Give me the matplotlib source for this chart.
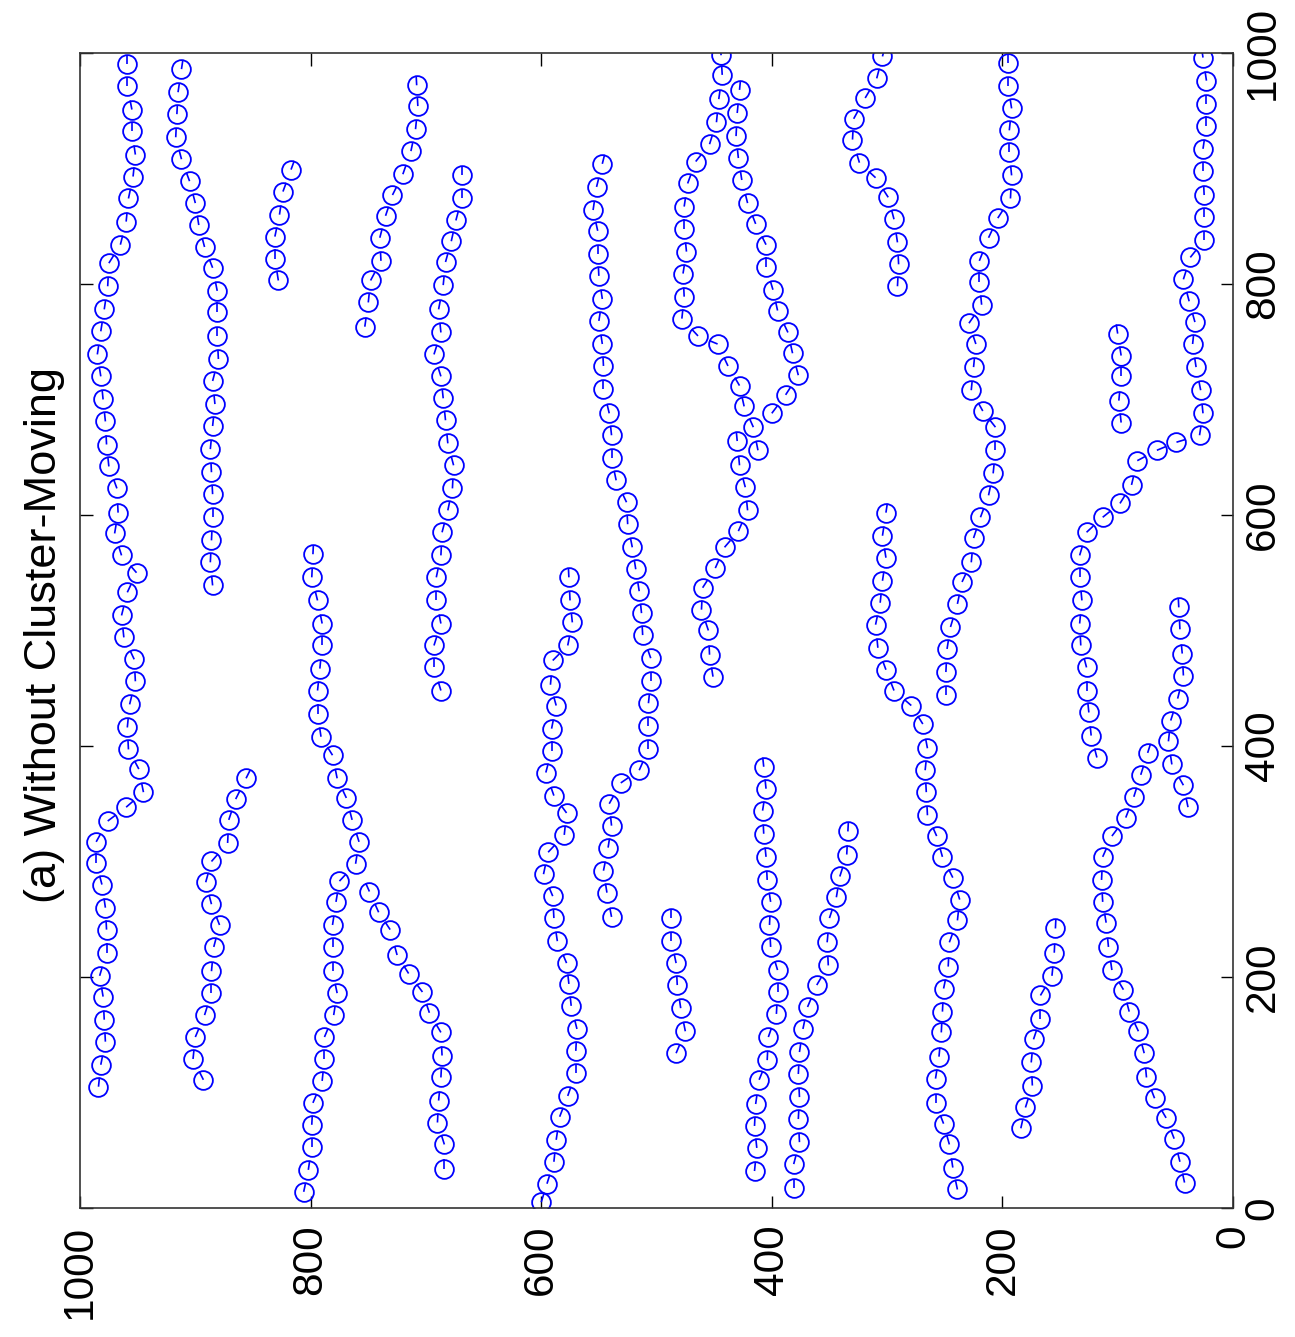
import numpy as np
import matplotlib
matplotlib.use("Agg")
import matplotlib.pyplot as plt
from matplotlib.collections import LineCollection

plt.rcParams['font.family'] = ['Liberation Sans', 'DejaVu Sans']

# The plot is laid on its side: x runs up the right edge (0 -> 1000),
# y runs along the bottom from right (0) to left (1000).
# Every track is stored in the order it was travelled (x increasing).
x01 = [105, 124, 144, 163, 183, 201, 221, 241, 260, 280, 299, 317, 335, 347, 360, 380, 397, 416, 436, 456, 475, 494, 513, 533, 550, 565, 584, 602, 623, 642, 661, 681, 700, 720, 739, 759, 778, 798, 818, 834, 854, 874, 893, 912, 932, 951, 971, 990]
y01 = [984, 982, 978, 979, 980, 983, 977, 977, 978, 981, 986, 986, 976, 960, 945, 949, 958, 959, 957, 952, 953, 962, 964, 959, 951, 964, 970, 967, 968, 975, 977, 978, 980, 982, 985, 982, 979, 976, 975, 965, 960, 958, 954, 952, 955, 955, 959, 959]

x02 = [539, 559, 578, 598, 618, 637, 657, 677, 696, 716, 735, 755, 776, 794, 814, 832, 851, 870, 889, 908, 927, 947, 966, 986]
y02 = [885, 887, 886, 885, 885, 886, 887, 885, 883, 885, 880, 881, 881, 881, 885, 892, 897, 900, 905, 912, 917, 916, 915, 912]

x03 = [803, 822, 841, 860, 880, 899]
y03 = [828, 831, 831, 827, 824, 817]

x04 = [763, 784, 803, 820, 840, 859, 877, 895, 915, 934, 954, 972]
y04 = [753, 750, 748, 739, 740, 735, 729, 720, 713, 709, 707, 708]

x05 = [448, 468, 487, 506, 526, 546, 565, 585, 604, 623, 643, 662, 682, 701, 720, 739, 758, 778, 799, 819, 837, 855, 874, 894]
y05 = [687, 693, 693, 687, 691, 691, 687, 686, 681, 677, 676, 681, 683, 685, 687, 693, 687, 689, 685, 683, 678, 674, 669, 669]

x06 = [252, 273, 292, 312, 331, 350, 368, 379, 397, 417, 437, 456, 476, 496, 515, 534, 553, 572, 592, 611, 630, 649, 669, 688, 709, 729, 748, 768, 787, 807, 826, 846, 864, 884, 904]
y06 = [539, 543, 546, 542, 539, 541, 531, 515, 507, 507, 507, 505, 505, 512, 513, 515, 518, 521, 525, 526, 535, 539, 539, 541, 546, 546, 547, 550, 547, 550, 551, 551, 555, 552, 547]

x07 = [5, 21, 40, 59, 79, 97, 117, 136, 155, 175, 194, 212, 231, 251, 270, 289, 308, 323, 342, 357, 377, 396, 415, 435, 453, 474, 487, 507, 526, 546]
y07 = [600, 595, 589, 587, 584, 577, 570, 570, 569, 574, 576, 578, 586, 589, 590, 598, 594, 580, 578, 589, 596, 591, 591, 587, 592, 590, 577, 573, 575, 576]

x08 = [656, 676, 694, 712, 729, 748, 755, 770, 789, 809, 828, 848, 867, 887, 906, 921, 940, 960, 981, 998]
y08 = [412, 416, 424, 428, 438, 447, 464, 478, 476, 477, 474, 476, 476, 473, 466, 454, 448, 446, 443, 444]

x09 = [688, 704, 721, 740, 758, 777, 795, 815, 834, 852, 870, 890, 909, 928, 948, 968]
y09 = [400, 388, 377, 382, 386, 395, 399, 405, 405, 414, 421, 426, 429, 431, 430, 428]

x10 = [460, 479, 500, 518, 537, 554, 572, 586, 604, 624, 643, 664]
y10 = [451, 454, 455, 461, 460, 449, 441, 429, 421, 423, 428, 430]

x11 = [798, 817, 836, 856, 875, 892, 905, 925, 943, 961, 978, 997]
y11 = [291, 290, 291, 294, 299, 310, 324, 330, 329, 319, 309, 304]

x12 = [444, 464, 484, 503, 523, 542, 559, 580, 598, 617, 636, 656, 676, 690, 708, 728, 748, 766, 782, 802, 820, 840, 857, 874, 894, 914, 933, 952, 971, 991]
y12 = [249, 249, 248, 245, 239, 235, 227, 225, 219, 212, 208, 206, 206, 217, 227, 225, 223, 229, 218, 220, 220, 212, 204, 193, 192, 194, 194, 192, 195, 195]

x13 = [390, 409, 429, 448, 468, 487, 506, 526, 546, 565, 585, 598, 610, 626, 647, 656, 663, 669, 688, 708, 728, 748, 767, 785, 804, 823, 838, 858, 877, 898, 917, 937, 956, 976, 996]
y13 = [118, 123, 125, 127, 127, 132, 133, 131, 133, 133, 127, 113, 98, 88, 83, 66, 49, 29, 26, 28, 32, 35, 33, 38, 43, 37, 25, 25, 25, 26, 26, 23, 23, 23, 26]

x14 = [680, 699, 720, 738, 757]
y14 = [97, 99, 97, 97, 100]

x15 = [16, 35, 55, 73, 91, 112, 131, 152, 170, 190, 209, 230, 249, 267, 286, 304, 322, 340, 360, 379, 398, 419, 435, 448, 466, 485, 505, 524, 543, 563, 582, 602]
y15 = [239, 243, 246, 251, 258, 258, 255, 253, 252, 251, 247, 246, 239, 237, 243, 252, 257, 265, 266, 267, 265, 269, 279, 294, 301, 308, 310, 306, 304, 301, 304, 301]

x16 = [347, 366, 384, 404, 422, 441, 461, 480, 501, 520]
y16 = [39, 43, 53, 56, 54, 48, 43, 44, 46, 47]

x17 = [22, 40, 60, 78, 95, 113, 134, 153, 170, 189, 206, 226, 247, 265, 284, 304, 322, 338, 356, 375, 394]
y17 = [42, 46, 51, 58, 68, 75, 77, 82, 90, 95, 105, 108, 110, 113, 114, 113, 105, 93, 86, 80, 74]

x18 = [69, 87, 106, 126, 146, 164, 184, 201, 221, 242]
y18 = [184, 180, 174, 175, 173, 167, 167, 157, 155, 154]

x19 = [32, 52, 71, 90, 111, 128, 148, 168, 187, 206, 226, 245, 265, 284, 304, 324, 344, 363, 382]
y19 = [415, 413, 415, 414, 411, 404, 403, 396, 395, 395, 401, 402, 401, 404, 405, 407, 408, 405, 407]

x20 = [17, 38, 57, 77, 96, 116, 135, 155, 174, 193, 210, 230, 251, 269, 287, 306, 326]
y20 = [381, 381, 376, 377, 376, 377, 376, 373, 369, 361, 351, 352, 350, 344, 341, 335, 334]

x21 = [134, 153, 173, 193, 212, 231, 251]
y21 = [483, 475, 479, 482, 483, 487, 487]

x22 = [111, 129, 148, 167, 186, 205, 226, 245, 263, 282, 300, 316, 336, 354, 372]
y22 = [893, 902, 900, 892, 886, 886, 884, 879, 886, 891, 886, 872, 871, 865, 856]

x23 = [14, 33, 53, 72, 91, 110, 129, 148, 167, 186, 205, 226, 245, 265, 283, 298, 317, 336, 355, 372, 392, 408, 428, 448, 467, 487, 506, 526, 546, 566]
y23 = [806, 802, 799, 799, 798, 790, 788, 788, 780, 777, 781, 781, 781, 778, 775, 761, 758, 764, 769, 777, 781, 791, 794, 794, 792, 790, 790, 794, 799, 798]

x24 = [34, 55, 74, 93, 113, 132, 152, 169, 187, 203, 219, 241, 256, 274]
y24 = [684, 684, 690, 689, 687, 686, 687, 697, 703, 715, 725, 731, 741, 749]

tracks = [(x01, y01), (x02, y02), (x03, y03), (x04, y04), (x05, y05),
          (x06, y06), (x07, y07), (x08, y08), (x09, y09), (x10, y10),
          (x11, y11), (x12, y12), (x13, y13), (x14, y14), (x15, y15),
          (x16, y16), (x17, y17), (x18, y18), (x19, y19), (x20, y20),
          (x21, y21), (x22, y22), (x23, y23), (x24, y24)]

ticks = [0, 200, 400, 600, 800, 1000]
head_len = 8.0  # heading stroke inside each circle, data units

fig = plt.figure(figsize=(12.95, 13.37), dpi=100)
ax = fig.add_axes([0.0618, 0.0965, 0.8903, 0.8639])

segs = []
for tx, ty in tracks:
    tx = np.asarray(tx, float)
    ty = np.asarray(ty, float)
    ax.plot(ty, tx, linestyle='none', marker='o', markersize=13.5,
            markerfacecolor='none', markeredgecolor='#0000ff',
            markeredgewidth=1.3)
    # heading of every object = direction to its next position
    dx = np.diff(tx)
    dy = np.diff(ty)
    dx = np.append(dx, dx[-1])
    dy = np.append(dy, dy[-1])
    n = np.hypot(dx, dy)
    for px, py, ux, uy in zip(tx, ty, dx / n, dy / n):
        segs.append([(py, px), (py + uy * head_len, px + ux * head_len)])

ax.add_collection(LineCollection(segs, colors='#0000ff', linewidths=1.2))

ax.set_xlim(1000, 0)
ax.set_ylim(0, 1000)
ax.set_xticks(ticks)
ax.set_yticks(ticks)
ax.set_xticklabels([str(t) for t in ticks])
ax.set_yticklabels([str(t) for t in ticks])
ax.yaxis.tick_right()
ax.tick_params(direction='in', length=9, width=1.0, top=True, bottom=True,
               left=True, right=True, labelleft=False, labelright=True,
               labelsize=30.5, colors='black')
ax.tick_params(axis='x', pad=12)
ax.tick_params(axis='y', pad=7)
for lab in ax.get_xticklabels():
    lab.set_rotation(90)
    lab.set_ha('center')
    lab.set_va('top')
for lab in ax.get_yticklabels():
    lab.set_rotation(90)
    lab.set_ha('left')
    lab.set_va('center')
for sp in ax.spines.values():
    sp.set_linewidth(1.2)
    sp.set_color('#333333')

fig.text(45 / 1295, 1 - 635 / 1337, '(a) Without Cluster-Moving',
         rotation=90, ha='center', va='center', fontsize=32.5)

fig.savefig('out.png', dpi=100, facecolor='white')
